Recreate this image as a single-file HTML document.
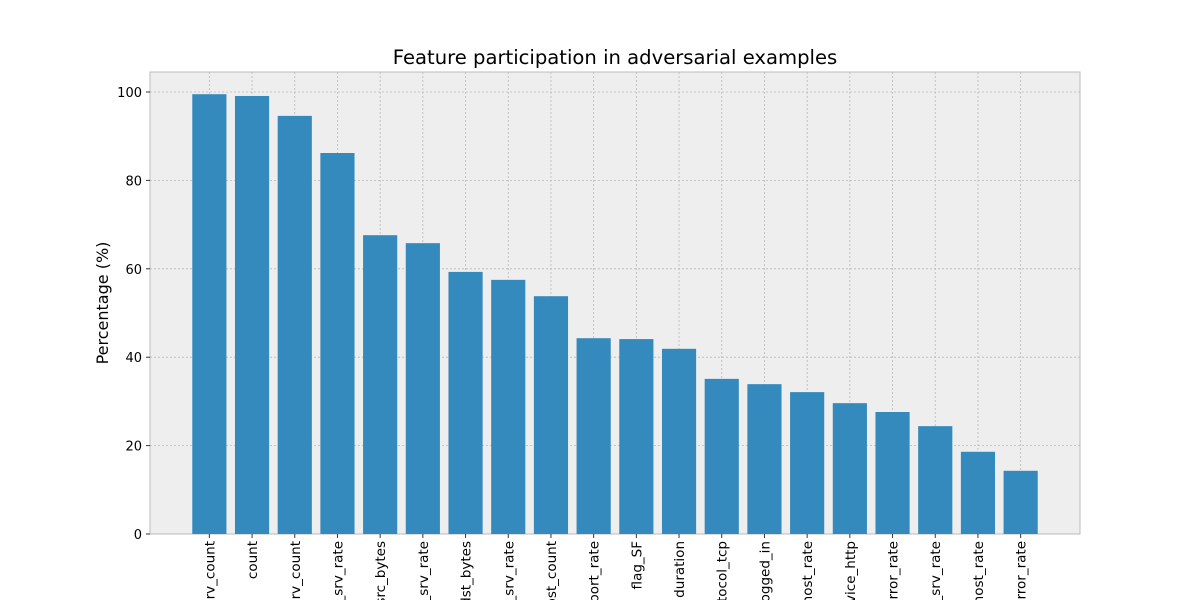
<!DOCTYPE html>
<html><head><meta charset="utf-8"><style>
html,body{margin:0;background:#fff;width:1200px;height:600px;overflow:hidden;font-family:"Liberation Sans","DejaVu Sans",sans-serif;}
svg{display:block}
</style></head><body>
<svg id="chart" width="1200" height="600" xmlns="http://www.w3.org/2000/svg" font-family="DejaVu Sans, Liberation Sans, sans-serif">
<defs><clipPath id="frame"><rect x="0" y="0" width="1200" height="600"/></clipPath></defs>
<rect width="1200" height="600" fill="#fff"/>
<text x="615" y="64" text-anchor="middle" font-size="19.6">Feature participation in adversarial examples</text>
<rect x="150" y="72" width="930" height="462" fill="#eeeeee" stroke="#bcbcbc"/>
<g id="grid"></g><g id="bars"></g><g id="xt" clip-path="url(#frame)"></g><g id="yt"></g>
<text transform="translate(108,303) rotate(-90)" text-anchor="middle" font-size="16">Percentage (%)</text>
</svg>
<script>
const categories=["dst_host_srv_count","count","srv_count","dst_host_same_srv_rate","src_bytes","same_srv_rate","dst_bytes","dst_host_diff_srv_rate","dst_host_count","dst_host_same_src_port_rate","flag_SF","duration","protocol_tcp","logged_in","dst_host_srv_diff_host_rate","service_http","dst_host_serror_rate","diff_srv_rate","srv_diff_host_rate","rerror_rate"];
const values=[99.5,99.1,94.6,86.2,67.6,65.8,59.3,57.5,53.8,44.3,44.1,41.9,35.1,33.9,32.1,29.6,27.6,24.4,18.6,14.3];
const yTicks=[0,20,40,60,80,100];
const NS="http://www.w3.org/2000/svg";
const L=150,R=1080,T=72,B=534;
const xmin=-1.39,xmax=categories.length-1+1.39;
const x=i=>L+(i-xmin)/(xmax-xmin)*(R-L);
const y=v=>B-v*(B-92)/100;
const bw=0.8*(R-L)/(xmax-xmin);
function mk(t,a,p){const e=document.createElementNS(NS,t);for(const k in a)e.setAttribute(k,a[k]);p.appendChild(e);return e;}
const g=document.getElementById('grid'),b=document.getElementById('bars'),xt=document.getElementById('xt'),yt=document.getElementById('yt');
yTicks.forEach(v=>{
 const l=mk('line',{x1:L,x2:R,y1:y(v),y2:y(v),stroke:'#b8b8b8','stroke-dasharray':'2,2','stroke-width':0.8},g);
 
 
 const t=mk('text',{x:L-8,y:y(v)+5,'text-anchor':'end','font-size':13},yt);
 t.textContent=v;
 
 
 mk('line',{x1:L-4,x2:L,y1:y(v),y2:y(v),stroke:'#333'},yt);
});
categories.forEach((c,i)=>{
 const gl=mk('line',{x1:x(i),x2:x(i),y1:T,y2:B,stroke:'#b8b8b8','stroke-dasharray':'2,2','stroke-width':0.8},g);
 
 
 const r=mk('rect',{x:x(i)-bw/2,y:y(values[i]),width:bw,height:B-y(values[i]),fill:'#348ABD'},b);
 
 
 mk('line',{x1:x(i),x2:x(i),y1:B,y2:B+4,stroke:'#333'},xt);
 const t=mk('text',{transform:`translate(${x(i)+5},${B+7}) rotate(-90)`,'text-anchor':'end','font-size':13.5},xt);
 t.textContent=c;
 
 
});
</script>
</body></html>
